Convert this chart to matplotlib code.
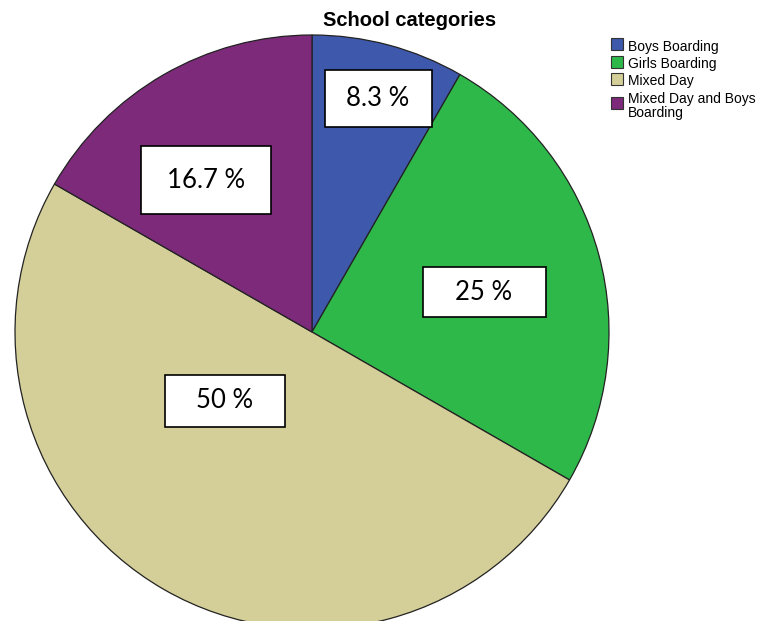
import matplotlib.pyplot as plt
from matplotlib.patches import Rectangle

categories = ["Boys Boarding", "Girls Boarding", "Mixed Day", "Mixed Day and Boys\nBoarding"]
shares = [8.3, 25, 50, 16.7]
colors = ["#3e58ac", "#2fb84a", "#d4ce98", "#7d2a7b"]

# label box centres and sizes, in pixels (y measured from the top)
box_pos = [(378, 98), (484, 292), (225, 401), (206, 180)]
box_size = [(107, 57), (123, 50), (120, 52), (130, 68)]

W, H = 757, 621
fig = plt.figure(figsize=(W / 100, H / 100), dpi=100)
ax = fig.add_axes([0, 0, 1, 1])

cx, cy, r = 312, H - 332, 297
ax.pie(shares, colors=colors, startangle=90, counterclock=False,
       center=(cx, cy), radius=r, frame=True,
       wedgeprops=dict(edgecolor="#222222", linewidth=0.9))
ax.set_xlim(0, W)
ax.set_ylim(0, H)
ax.set_aspect("equal")
ax.axis("off")

for v, (bx, by), (bw, bh) in zip(shares, box_pos, box_size):
    y = H - by
    ax.add_patch(Rectangle((bx - bw / 2, y - bh / 2), bw, bh, facecolor="white",
                           edgecolor="black", linewidth=1.2, zorder=3))
    ax.text(bx, y, f"{v:g} %", ha="center", va="center", fontsize=18.5,
            family="Lato", zorder=4)

fig.text(410 / W, 1 - 20 / H, "School categories", ha="center", va="center",
         fontsize=14.5, fontweight="bold", family="Liberation Sans")

# legend: swatch centre and text baseline, pixels from the top
swatch_y = [44.3, 61.5, 79, 103]
text_y = [51, 68, 85, 103]
for name, c, sy, ty in zip(categories, colors, swatch_y, text_y):
    ax.add_patch(Rectangle((611, H - sy - 6), 12, 12, facecolor=c, edgecolor="#333333",
                           linewidth=0.8))
    for i, line in enumerate(name.split("\n")):
        ax.text(628, H - ty - 14.5 * i, line, ha="left", va="baseline",
                fontsize=10, family="Liberation Sans")

fig.savefig("out.png", dpi=100)
